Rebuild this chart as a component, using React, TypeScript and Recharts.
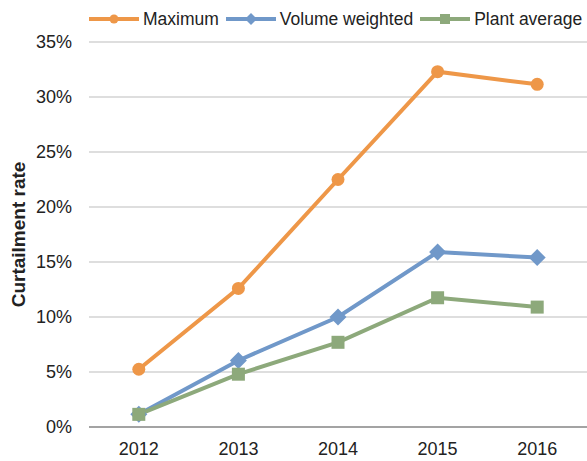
import { LineChart, Line, XAxis, YAxis, CartesianGrid } from 'recharts'

const years = ['2012', '2013', '2014', '2015', '2016']
const maximum = [5.25, 12.6, 22.5, 32.3, 31.15]
const volumeWeighted = [1.15, 6.05, 10.0, 15.9, 15.4]
const plantAverage = [1.15, 4.8, 7.7, 11.75, 10.9]
const yTicks = [0, 5, 10, 15, 20, 25, 30, 35]

const FONT = '"Liberation Sans", Arial, sans-serif'
const ORANGE = '#EE9748'
const BLUE = '#7098C9'
const GREEN = '#8DA97B'

const data = years.map((year, i) => ({
  year,
  maximum: maximum[i],
  volume: volumeWeighted[i],
  plant: plantAverage[i],
}))

type DotProps = { cx?: number; cy?: number; index?: number }

const circleDot = (p: DotProps) => (
  <circle key={`c${p.index}`} cx={p.cx} cy={p.cy} r={6.5} fill={ORANGE} />
)

const diamondDot = (p: DotProps) => {
  const cx = p.cx ?? 0
  const cy = p.cy ?? 0
  const s = 8.5
  return (
    <polygon
      key={`d${p.index}`}
      points={`${cx},${cy - s} ${cx + s},${cy} ${cx},${cy + s} ${cx - s},${cy}`}
      fill={BLUE}
    />
  )
}

const squareDot = (p: DotProps) => (
  <rect key={`s${p.index}`} x={(p.cx ?? 0) - 6.5} y={(p.cy ?? 0) - 6.5} width={13} height={13} fill={GREEN} />
)

const legendItems = [
  { label: 'Maximum', color: ORANGE, shape: 'circle' },
  { label: 'Volume weighted', color: BLUE, shape: 'diamond' },
  { label: 'Plant average', color: GREEN, shape: 'square' },
]

function LegendIcon({ color, shape }: { color: string; shape: string }) {
  return (
    <svg width={50} height={14} style={{ display: 'block' }}>
      <line x1={0} y1={7} x2={50} y2={7} stroke={color} strokeWidth={4} />
      {shape === 'circle' && <circle cx={25} cy={7} r={4.5} fill={color} />}
      {shape === 'diamond' && <polygon points="25,1 31,7 25,13 19,7" fill={color} />}
      {shape === 'square' && <rect x={20} y={2} width={10} height={10} fill={color} />}
    </svg>
  )
}

export default function App() {
  return (
    <div style={{ position: 'absolute', left: 0, top: 0, width: 587, height: 461, background: '#fff', fontFamily: FONT }}>
      <div style={{ position: 'absolute', left: 89, top: 8, display: 'flex', alignItems: 'center', height: 22 }}>
        {legendItems.map((it) => (
          <div key={it.label} style={{ display: 'flex', alignItems: 'center', marginRight: 7 }}>
            <LegendIcon color={it.color} shape={it.shape} />
            <span style={{ fontSize: 17.5, color: '#222', marginLeft: 4, whiteSpace: 'nowrap' }}>{it.label}</span>
          </div>
        ))}
      </div>
      <LineChart width={587} height={461} data={data} margin={{ top: 42, right: 0, bottom: 0, left: 0 }}>
        <CartesianGrid vertical={false} stroke="#D3D3D3" strokeWidth={1.5} />
        <XAxis
          dataKey="year"
          height={34}
          padding={{ left: 49.8, right: 49.8 }}
          tickSize={0}
          tickMargin={15}
          axisLine={{ stroke: '#A3A3A3', strokeWidth: 2 }}
          tickLine={false}
          tick={{ fontSize: 18, fill: '#222', fontFamily: FONT }}
        />
        <YAxis
          width={89}
          domain={[0, 35]}
          ticks={yTicks}
          tickFormatter={(v) => `${v}%`}
          tickSize={0}
          tickMargin={17}
          axisLine={false}
          tickLine={false}
          tick={{ fontSize: 18, fill: '#222', fontFamily: FONT }}
          label={{
            value: 'Curtailment rate',
            angle: -90,
            position: 'insideLeft',
            offset: 18,
            style: { textAnchor: 'middle', fontSize: 19, fontWeight: 'bold', fill: '#222', fontFamily: FONT },
          }}
        />
        <Line dataKey="maximum" stroke={ORANGE} strokeWidth={4} dot={circleDot} isAnimationActive={false} />
        <Line dataKey="volume" stroke={BLUE} strokeWidth={4} dot={diamondDot} isAnimationActive={false} />
        <Line dataKey="plant" stroke={GREEN} strokeWidth={4} dot={squareDot} isAnimationActive={false} />
      </LineChart>
    </div>
  )
}
